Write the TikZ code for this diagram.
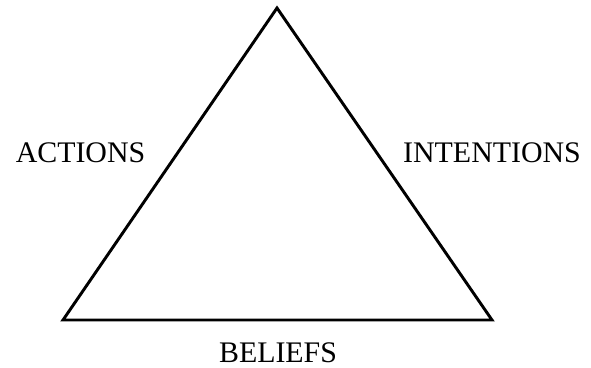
\documentclass[tikz,border=0pt]{standalone}
\usepackage{fontspec}
\setmainfont{Liberation Serif}
\begin{document}
\begin{tikzpicture}[x=0.03cm, y=-0.03cm]
            \useasboundingbox (0, 0) rectangle (591, 368);
            \coordinate (top) at (277, 8);
            \coordinate (left) at (63, 320);
            \coordinate (right) at (492, 320);
            \draw[line width=2.5pt, line join=miter] (top) -- (left) -- (right) -- cycle;
            \node[inner sep=0pt, font=\fontsize{25.5}{30}\selectfont] (actions) at (80.5, 153) {ACTIONS};
            \node[inner sep=0pt, font=\fontsize{25.5}{30}\selectfont] (intentions) at (492, 153) {INTENTIONS};
            \node[inner sep=0pt, font=\fontsize{25.5}{30}\selectfont] (beliefs) at (278, 353) {BELIEFS};
        \end{tikzpicture}
\end{document}
